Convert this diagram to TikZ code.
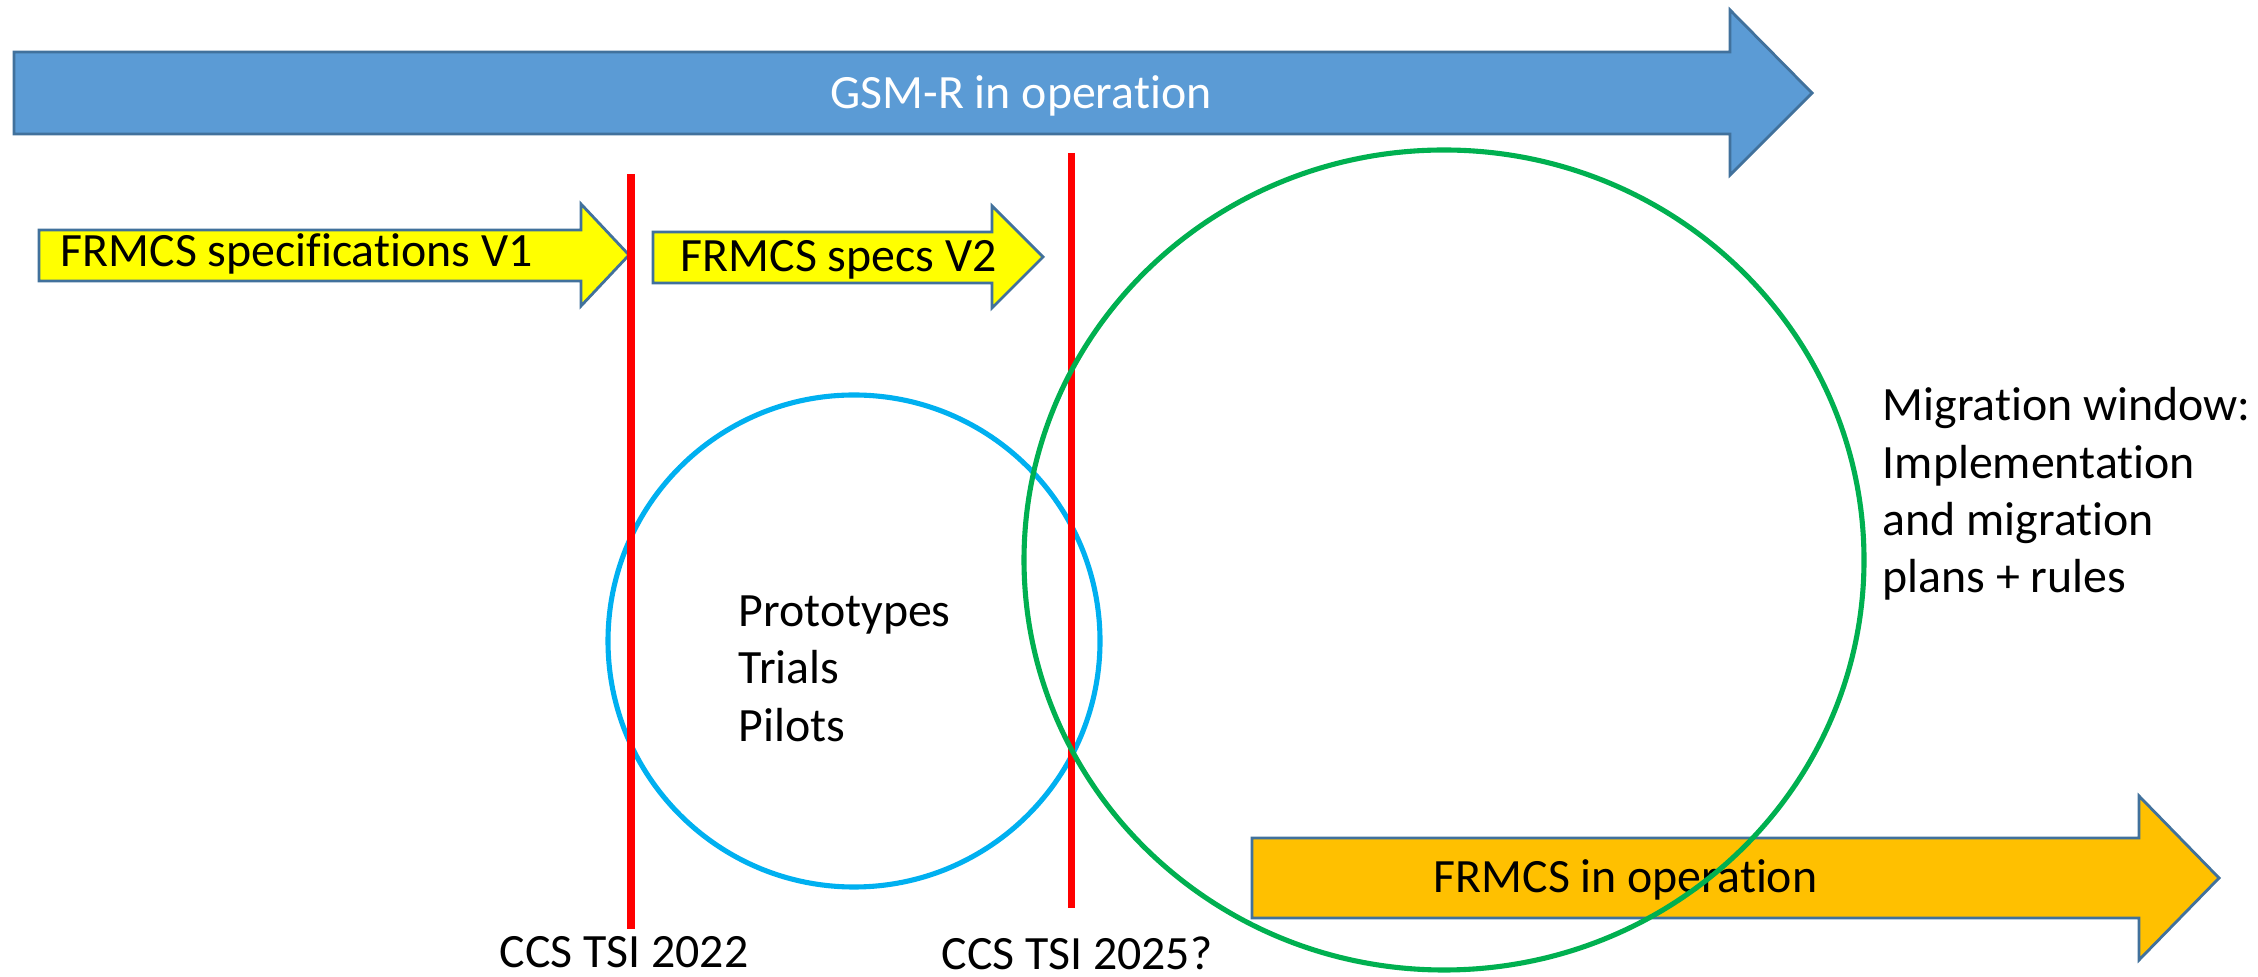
\documentclass[tikz,border=0pt]{standalone}
\usepackage{fontspec}
\setmainfont{Carlito}[Ligatures={NoCommon}]
\begin{document}
\begin{tikzpicture}[x=0.01cm,y=-0.01cm,
  arrowbox/.style={draw=arrowedge,line width=0.8pt,line join=miter},
  lbl/.style={inner sep=0pt,font=\fontsize{13.6pt}{16.3pt}\selectfont},
  milestone/.style={draw=red,line width=2pt},
  ring/.style={line width=1.45pt}]
\definecolor{arrowedge}{HTML}{41719C}
\definecolor{gsmblue}{HTML}{5B9BD5}
\definecolor{specyellow}{HTML}{FFFF00}
\definecolor{frmcsorange}{HTML}{FFC000}
\definecolor{ringblue}{HTML}{00B0F0}
\definecolor{ringgreen}{HTML}{00B050}
\useasboundingbox (0,0) rectangle (2258,977);
% GSM-R arrow
\filldraw[arrowbox,fill=gsmblue] (14,52) -- (1730,52) -- (1730,10) -- (1812,93) -- (1730,175) -- (1730,134) -- (14,134) -- cycle;
\node[lbl,anchor=base,text=white] (gsm) at (1021,109) {GSM-R in operation};
% FRMCS spec arrows
\filldraw[arrowbox,fill=specyellow] (39,230) -- (581,230) -- (581,204) -- (629,255) -- (581,306) -- (581,281) -- (39,281) -- cycle;
\node[lbl,anchor=base west] (v1) at (60,267) {FRMCS specifications V1};
\filldraw[arrowbox,fill=specyellow] (653,232) -- (992,232) -- (992,206) -- (1043,257) -- (992,308) -- (992,283) -- (653,283) -- cycle;
\node[lbl,anchor=base west] (v2) at (680,272) {FRMCS specs V2};
% FRMCS in operation arrow
\filldraw[arrowbox,fill=frmcsorange] (1252,838) -- (2139,838) -- (2139,796) -- (2219,878) -- (2139,960) -- (2139,918) -- (1252,918) -- cycle;
\node[lbl,anchor=base west] (op) at (1433,893) {FRMCS in operation};
% blue circle
\draw[ring,draw=ringblue] (854,641) circle[radius=246];
% milestones
\coordinate (m1top) at (631,174);
\coordinate (m1bot) at (631,929);
\coordinate (m2top) at (1071,153);
\coordinate (m2bot) at (1071,908);
\draw[milestone] (m1top) -- (m1bot);
\draw[milestone] (m2top) -- (m2bot);
\node[lbl,anchor=base] (tsi22) at (624,968) {CCS TSI 2022};
\node[lbl,anchor=base] (tsi25) at (1077,970) {CCS TSI 2025?};
% green ellipse
\draw[ring,draw=ringgreen] (1444,560) ellipse[x radius=420,y radius=410];
% texts
\node[lbl,anchor=north west,align=left] (proto) at (738,595) {Prototypes\\Trials\\Pilots};
\node[lbl,anchor=north west,align=left] (mig) at (1882,387) {Migration window:\\Implementation\\and migration\\plans + rules};
\end{tikzpicture}
\end{document}
